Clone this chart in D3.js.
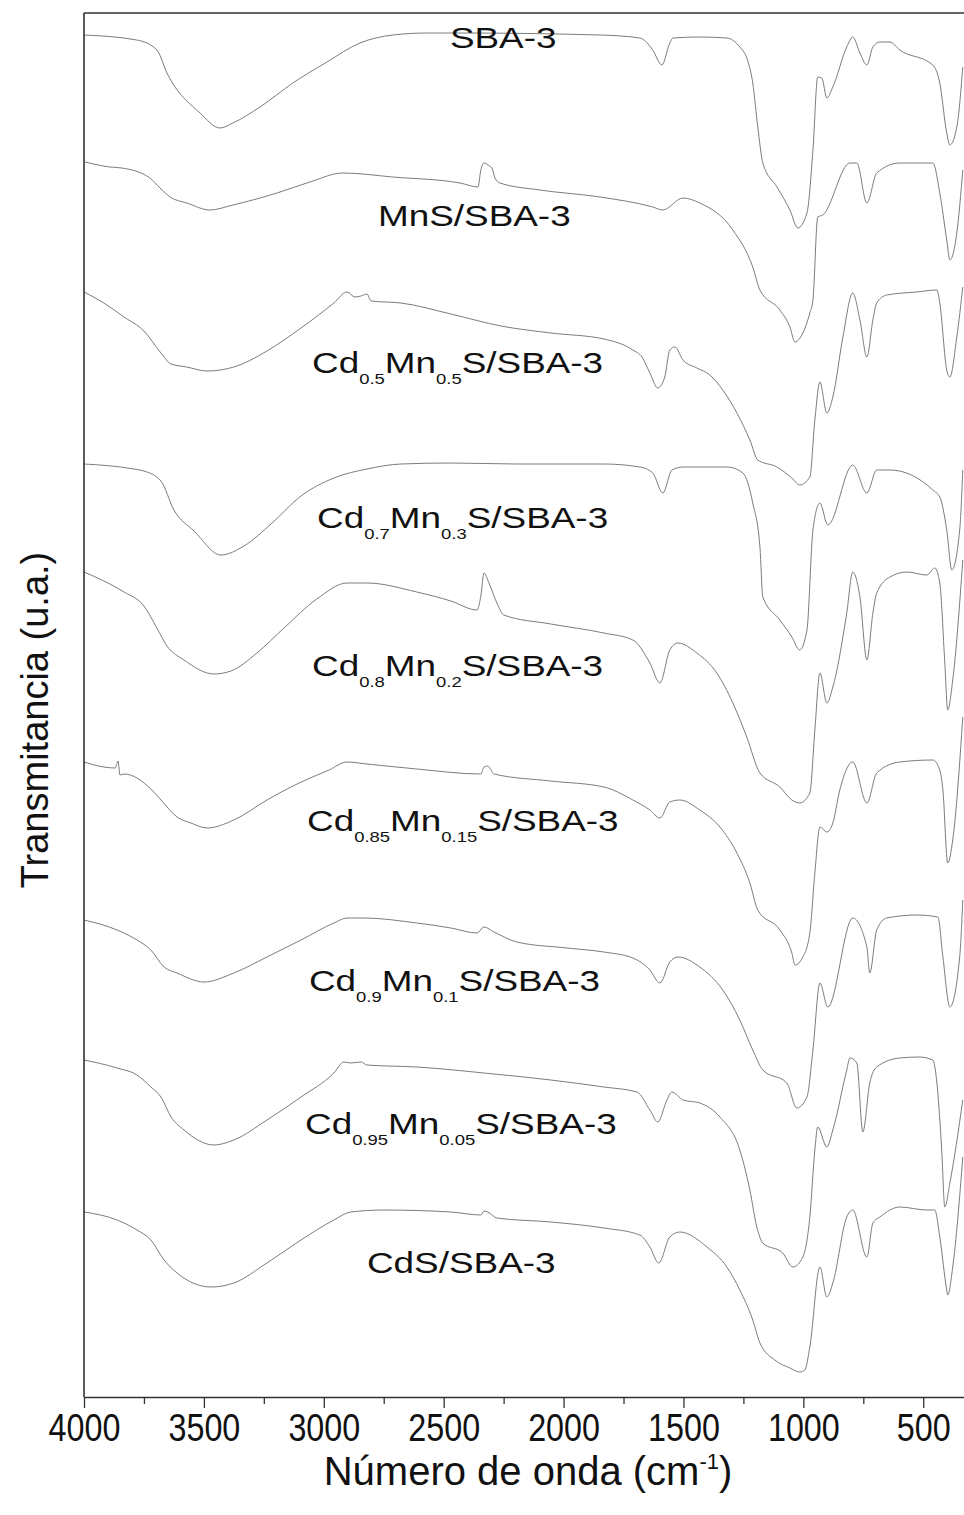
<!DOCTYPE html>
<html>
<head>
<meta charset="utf-8">
<script src="https://cdn.jsdelivr.net/npm/d3@7"></script>
<style>
  body { margin: 0; background: #fff; }
  svg { display: block; }
</style>
</head>
<body>
<div id="chart"></div>
<script>
(function () {
  'use strict';

  /* -----------------------------------------------------------
     FTIR spectra, stacked transmittance (a.u.) vs wavenumber (cm-1)
     Each pair = [wavenumber, stacked transmittance]
  ----------------------------------------------------------- */
  var sba3 = [[4000,136.2],[3780,135.7],[3696,134.7],[3654,132.4],[3516,128.4],[3433,126.9],[3379,127.4],[3266,129.0],[3129,131.4],[2987,133.5],[2849,135.4],[2712,136.2],[2570,136.4],[2432,136.4],[1848,136.2],[1682,135.9],[1628,134.7],[1590,133.2],[1557,135.4],[1544,135.9],[1432,136.0],[1319,135.9],[1265,135.0],[1236,133.9],[1211,131.4],[1190,127.0],[1169,123.4],[1110,121.0],[1056,118.7],[1023,116.9],[985,118.4],[960,124.7],[940,132.0],[923,131.9],[902,129.9],[877,131.0],[819,135.0],[794,136.0],[764,134.4],[735,133.2],[710,135.0],[681,135.5],[639,135.5],[598,134.7],[460,133.2],[431,131.4],[402,126.4],[389,125.2],[360,127.0],[335,133.0]];

  var mns = [[3996,123.5],[3892,123.0],[3842,122.9],[3725,121.9],[3683,120.9],[3641,120.0],[3571,119.4],[3475,118.7],[3379,119.2],[3195,120.4],[3058,121.5],[2920,122.4],[2712,122.0],[2432,121.4],[2357,121.0],[2345,122.7],[2332,123.4],[2316,123.2],[2299,122.9],[2286,121.9],[2265,121.4],[2099,120.7],[1848,120.0],[1628,119.0],[1586,118.7],[1502,119.9],[1432,119.4],[1294,116.7],[1211,113.0],[1181,110.7],[1098,108.7],[1056,107.0],[1035,105.5],[1002,106.4],[973,108.4],[960,109.7],[940,118.0],[919,118.2],[806,123.4],[777,123.4],[735,119.4],[694,122.4],[598,123.4],[460,123.4],[431,120.4],[402,115.7],[389,113.7],[360,116.4],[335,122.7]];

  var cd50 = [[4000,110.5],[3917,109.4],[3833,108.0],[3750,106.6],[3679,104.4],[3637,103.3],[3571,103.0],[3487,102.6],[3375,103.0],[3237,104.6],[3095,106.9],[2958,109.4],[2903,110.5],[2870,110.0],[2845,110.1],[2820,110.3],[2803,109.6],[2678,109.4],[2470,108.3],[2261,107.1],[2053,106.4],[1832,105.8],[1711,104.7],[1673,104.0],[1640,102.4],[1607,100.9],[1578,102.0],[1557,104.7],[1536,105.0],[1502,103.7],[1444,102.9],[1390,102.2],[1336,100.7],[1277,98.4],[1223,95.7],[1190,93.7],[1110,93.0],[1048,91.9],[1015,91.2],[973,92.0],[952,97.7],[931,101.5],[902,98.4],[877,100.0],[835,106.0],[794,110.4],[764,107.7],[735,104.0],[710,107.7],[694,109.4],[652,110.2],[527,110.5],[443,110.7],[431,109.4],[402,102.7],[389,102.0],[360,106.0],[335,111.0]];

  var cd70 = [[4000,93.3],[3792,92.8],[3750,92.6],[3679,91.6],[3625,88.7],[3541,86.6],[3429,84.2],[3333,85.1],[3220,87.3],[3095,90.1],[2958,91.9],[2820,92.8],[2678,93.3],[2470,93.4],[2195,93.3],[1832,93.3],[1682,93.0],[1628,92.4],[1586,90.4],[1548,92.7],[1502,93.0],[1319,93.0],[1252,92.4],[1211,89.4],[1181,85.0],[1169,80.0],[1098,77.7],[1048,76.0],[1015,74.7],[985,76.7],[960,86.7],[931,89.4],[898,87.2],[794,93.2],[735,90.4],[694,92.7],[639,92.7],[460,90.7],[431,90.0],[402,86.7],[381,82.7],[348,86.7],[335,92.7]];

  var cd80 = [[4000,82.5],[3917,81.6],[3833,80.5],[3750,79.1],[3696,76.9],[3654,75.1],[3583,73.7],[3458,72.3],[3387,72.6],[3279,74.4],[3166,76.9],[3029,79.8],[2903,81.4],[2820,81.4],[2612,80.5],[2470,79.6],[2361,78.7],[2345,80.1],[2332,82.4],[2311,81.4],[2278,79.4],[2249,78.2],[2053,77.3],[1832,76.4],[1711,75.7],[1640,73.4],[1598,71.4],[1557,74.7],[1523,75.4],[1444,74.4],[1361,72.4],[1294,69.4],[1236,66.0],[1181,62.4],[1098,61.0],[1048,59.7],[1015,59.4],[973,60.4],[952,66.7],[931,72.4],[902,69.4],[877,71.0],[819,78.4],[794,82.5],[764,80.0],[735,73.7],[710,78.4],[694,80.4],[639,82.0],[568,82.5],[485,82.2],[452,82.9],[431,81.4],[410,73.4],[398,68.7],[377,71.7],[335,83.7]];

  var cd85 = [[4000,63.5],[3917,63.0],[3870,62.9],[3858,63.6],[3850,62.2],[3833,62.3],[3721,60.8],[3679,59.7],[3612,58.0],[3554,57.4],[3487,56.9],[3375,57.7],[3237,59.7],[3103,61.4],[2978,62.7],[2903,63.5],[2820,63.3],[2612,62.8],[2345,62.3],[2332,63.0],[2316,63.1],[2290,62.3],[2053,61.6],[1832,61.0],[1711,59.7],[1640,58.7],[1598,57.9],[1557,59.5],[1515,59.7],[1432,58.7],[1348,57.0],[1277,54.4],[1223,51.4],[1190,48.7],[1098,46.7],[1048,44.4],[1035,43.2],[1002,44.0],[973,46.4],[952,52.4],[931,57.0],[902,56.5],[877,57.4],[848,60.7],[794,63.5],[735,59.4],[694,62.4],[598,63.5],[460,63.7],[431,62.7],[418,60.7],[398,53.4],[377,55.7],[335,68.0]];

  var cd90 = [[4000,47.7],[3862,46.7],[3779,45.7],[3721,44.7],[3666,43.0],[3612,42.4],[3500,41.5],[3375,42.4],[3237,44.0],[3095,45.7],[2958,47.4],[2903,47.9],[2833,47.9],[2612,47.4],[2470,46.9],[2361,46.4],[2332,47.0],[2290,46.5],[2195,45.5],[1986,44.9],[1832,44.5],[1711,43.9],[1640,42.7],[1598,41.4],[1557,43.5],[1523,44.0],[1432,43.0],[1336,40.7],[1265,37.7],[1211,34.7],[1169,32.7],[1069,31.4],[1027,28.9],[985,30.0],[960,34.7],[931,41.4],[898,39.0],[794,47.9],[735,45.0],[723,42.4],[694,46.7],[652,47.9],[527,48.2],[439,48.0],[418,44.0],[389,39.0],[348,44.0],[335,49.7]];

  var cd95 = [[4000,33.7],[3862,32.9],[3779,32.2],[3721,31.0],[3679,30.0],[3637,28.0],[3583,26.7],[3458,25.2],[3375,25.7],[3237,27.7],[3095,30.0],[2958,32.4],[2916,33.5],[2887,33.4],[2845,33.5],[2820,33.2],[2612,33.0],[2332,32.4],[2053,31.7],[1832,31.0],[1694,30.5],[1640,28.7],[1607,27.5],[1569,29.7],[1548,30.5],[1502,29.7],[1432,29.4],[1348,28.0],[1265,24.7],[1223,20.7],[1194,17.0],[1169,15.4],[1086,14.4],[1044,13.0],[1002,14.0],[973,18.0],[952,24.7],[940,27.0],[902,25.0],[877,26.7],[819,32.7],[806,33.9],[777,33.4],[752,26.5],[723,31.4],[694,33.0],[598,33.9],[515,34.0],[460,33.7],[443,31.4],[423,24.7],[410,19.0],[389,21.4],[335,29.7]];

  var cds = [[4000,18.5],[3862,17.7],[3779,16.7],[3721,15.7],[3666,13.7],[3612,12.4],[3470,11.0],[3375,11.4],[3237,13.4],[3095,15.7],[2958,17.7],[2887,18.5],[2749,18.7],[2470,18.5],[2345,18.2],[2332,18.6],[2316,18.5],[2278,17.9],[2053,17.5],[1832,16.9],[1682,16.2],[1640,15.0],[1603,13.4],[1557,16.0],[1515,16.5],[1402,15.0],[1319,13.0],[1265,10.7],[1211,7.7],[1181,5.4],[1119,3.7],[1056,2.9],[1015,2.5],[994,2.7],[973,5.0],[931,13.0],[902,10.0],[877,11.4],[819,18.0],[794,18.7],[735,14.0],[710,17.4],[681,18.0],[598,19.0],[485,18.7],[452,18.7],[431,16.0],[402,10.7],[398,10.2],[377,13.0],[335,24.0]];

  var spectra = [sba3, mns, cd50, cd70, cd80, cd85, cd90, cd95, cds];

  /* labels: alternating main / subscript pieces */
  var labelParts = [
    ['SBA-3'],
    ['MnS/SBA-3'],
    ['Cd', '0.5', 'Mn', '0.5', 'S/SBA-3'],
    ['Cd', '0.7', 'Mn', '0.3', 'S/SBA-3'],
    ['Cd', '0.8', 'Mn', '0.2', 'S/SBA-3'],
    ['Cd', '0.85', 'Mn', '0.15', 'S/SBA-3'],
    ['Cd', '0.9', 'Mn', '0.1', 'S/SBA-3'],
    ['Cd', '0.95', 'Mn', '0.05', 'S/SBA-3'],
    ['CdS/SBA-3']
  ];
  /* label anchor (wavenumber of left edge, transmittance of baseline) */
  var labelAt = [[2474,134.9],[2774,117.1],[3049,102.4],[3028,86.9],[3049,72.1],[3070,56.6],[3062,40.6],[3078,26.3],[2820,12.4]];

  var majorTicks = [4000, 3500, 3000, 2500, 2000, 1500, 1000, 500];
  var minorTicks = [3750, 3250, 2750, 2250, 1750, 1250, 750];

  /* -----------------------------------------------------------
     Layout
  ----------------------------------------------------------- */
  var W = 964, H = 1515;
  var plot = { left: 84, top: 13, right: 964, bottom: 1397 };
  var FONT = '"Liberation Sans", Arial, Helvetica, sans-serif';

  var x = d3.scaleLinear().domain([4000, 330]).range([plot.left, plot.right]);
  var y = d3.scaleLinear().domain([0, 138.4]).range([plot.bottom, plot.top]);

  var svg = d3.select('#chart').append('svg')
    .attr('width', W).attr('height', H)
    .attr('viewBox', '0 0 ' + W + ' ' + H);

  svg.append('rect').attr('width', W).attr('height', H).attr('fill', '#fff');

  svg.append('clipPath').attr('id', 'clip')
    .append('rect')
    .attr('x', plot.left).attr('y', plot.top)
    .attr('width', plot.right - plot.left).attr('height', plot.bottom - plot.top);

  /* Spectra */
  var line = d3.line()
    .x(function (d) { return x(d[0]); })
    .y(function (d) { return y(d[1]); })
    .curve(d3.curveMonotoneX);

  svg.append('g').attr('clip-path', 'url(#clip)')
    .selectAll('path')
    .data(spectra)
    .join('path')
    .attr('d', line)
    .attr('fill', 'none')
    .attr('stroke', '#7c7c7c')
    .attr('stroke-width', 1)
    .attr('stroke-linejoin', 'round');

  /* Frame: top and left */
  svg.append('line')
    .attr('x1', plot.left).attr('x2', plot.right)
    .attr('y1', plot.top).attr('y2', plot.top)
    .attr('stroke', '#333').attr('stroke-width', 1.6);
  svg.append('line')
    .attr('x1', plot.left).attr('x2', plot.left)
    .attr('y1', plot.top).attr('y2', plot.bottom)
    .attr('stroke', '#333').attr('stroke-width', 1.6);

  /* Bottom axis */
  var gx = svg.append('g').attr('transform', 'translate(0,' + plot.bottom + ')');
  gx.call(d3.axisBottom(x).tickValues(majorTicks).tickSize(11).tickSizeOuter(0).tickPadding(6)
    .tickFormat(d3.format('d')));
  gx.select('.domain').attr('stroke', '#333').attr('stroke-width', 1.6);
  gx.selectAll('.tick line').attr('stroke', '#333').attr('stroke-width', 1.3);
  gx.selectAll('.tick text')
    .attr('fill', '#111')
    .style('font-family', FONT)
    .style('font-size', '38px')
    .attr('dy', '0.72em')
    .attr('x', 0)
    .attr('transform', 'scale(0.85,1)');

  var gm = svg.append('g').attr('transform', 'translate(0,' + plot.bottom + ')');
  gm.call(d3.axisBottom(x).tickValues(minorTicks).tickSize(7).tickFormat(''));
  gm.select('.domain').remove();
  gm.selectAll('.tick line').attr('stroke', '#333').attr('stroke-width', 1.3);

  /* Axis titles */
  var xt = svg.append('text')
    .attr('x', 528).attr('y', 1485)
    .attr('text-anchor', 'middle')
    .style('font-family', FONT).style('font-size', '40px').attr('fill', '#111');
  xt.append('tspan').text('Número de onda (cm');
  xt.append('tspan').attr('dy', -16).style('font-size', '22px').text('-1');
  xt.append('tspan').attr('dy', 16).text(')');

  svg.append('text')
    .attr('transform', 'translate(48,720) rotate(-90)')
    .attr('text-anchor', 'middle')
    .style('font-family', FONT).style('font-size', '38px').attr('fill', '#111')
    .text('Transmitancia (u.a.)');

  /* Spectrum labels */
  var labels = svg.append('g').selectAll('text')
    .data(labelParts)
    .join('text')
    .attr('transform', function (d, i) {
      return 'translate(' + x(labelAt[i][0]) + ',' + y(labelAt[i][1]) + ') scale(1.23,1)';
    })
    .style('font-family', FONT)
    .style('font-size', '30px')
    .attr('fill', '#111');

  labels.each(function (parts) {
    var t = d3.select(this);
    parts.forEach(function (p, k) {
      var ts = t.append('tspan').text(p);
      if (k % 2 === 1) {
        ts.style('font-size', '15px').attr('dy', 11);
      } else if (k > 0) {
        ts.attr('dy', -11);
      }
    });
  });
})();
</script>
</body>
</html>
